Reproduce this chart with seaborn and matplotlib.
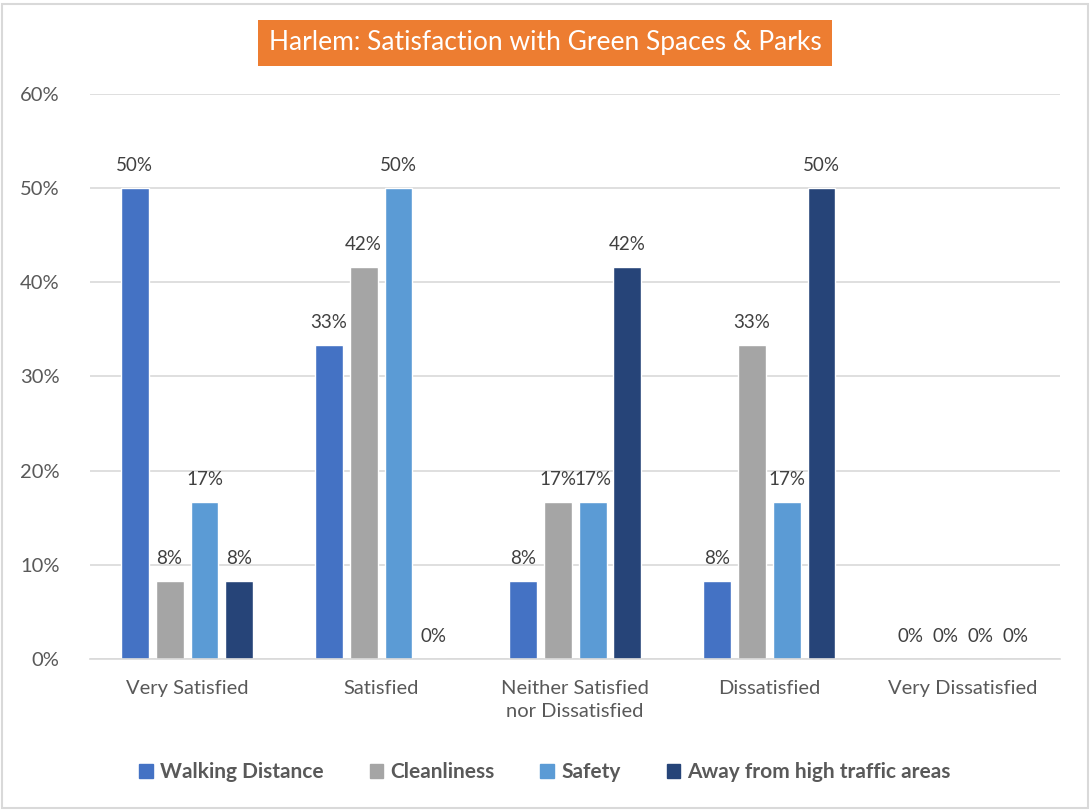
import matplotlib
matplotlib.use("Agg")
import matplotlib.pyplot as plt
import seaborn as sns
import pandas as pd
from matplotlib.patches import Rectangle

categories = ["Very Satisfied", "Satisfied", "Neither Satisfied\nnor Dissatisfied", "Dissatisfied", "Very Dissatisfied"]
series = ["Walking Distance", "Cleanliness", "Safety", "Away from high traffic areas"]
walking = [50.0, 33.33, 8.33, 8.33, 0.0]
cleanliness = [8.33, 41.67, 16.67, 33.33, 0.0]
safety = [16.67, 50.0, 16.67, 16.67, 0.0]
away = [8.33, 0.0, 41.67, 50.0, 0.0]
colors = ["#4472C4", "#A5A5A5", "#5B9BD5", "#264478"]
yticks = [0, 10, 20, 30, 40, 50, 60]

rows = []
for name, vals in zip(series, [walking, cleanliness, safety, away]):
    for c, v in zip(categories, vals):
        rows.append({"category": c, "series": name, "value": v})
df = pd.DataFrame(rows)

sns.set_theme(style="white")
plt.rcParams['font.family'] = ['Lato', 'DejaVu Sans']
txt = "#595959"
fs = 14.5

fig = plt.figure(figsize=(10.9, 8.1), dpi=100)
ax = fig.add_axes([0.0826, 0.1864, 0.89, 0.6976])
sns.barplot(data=df, x="category", y="value", hue="series", order=categories,
            hue_order=series, palette=colors, width=0.72, gap=0.2, ax=ax,
            legend=False, saturation=1, errorbar=None)

ax.set_ylim(0, 60)
ax.set_xlim(-0.5, len(categories) - 0.5)
ax.set_yticks(yticks)
ax.set_yticklabels([f"{t}%" for t in yticks], color=txt, fontsize=fs)
ax.tick_params(axis="y", length=0, pad=22)
ax.tick_params(axis="x", length=0, pad=15, labelsize=fs, labelcolor=txt)
for lbl in ax.get_xticklabels():
    lbl.set_linespacing(1.45)
ax.set_xlabel("")
ax.set_ylabel("")
ax.grid(axis="y", color="#D9D9D9", linewidth=1.2)
ax.set_axisbelow(True)
for s in ["top", "right", "left"]:
    ax.spines[s].set_visible(False)
ax.spines["bottom"].set_color("#D9D9D9")
ax.spines["bottom"].set_linewidth(1.2)

for cont in ax.containers:
    ax.bar_label(cont, labels=[f"{round(v)}%" for v in cont.datavalues],
                 padding=10, color="#404040", fontsize=13.5)

handles = [Rectangle((0, 0), 1, 1, color=c) for c in colors]
leg = fig.legend(handles, series, loc="center", bbox_to_anchor=(0.5, 0.047), ncol=4,
                 frameon=False, handlelength=0.65, handleheight=0.65, columnspacing=2.2,
                 handletextpad=0.35, prop={"weight": "bold", "size": 15})
for t in leg.get_texts():
    t.set_color(txt)

fig.text(0.5, 0.947, "Harlem: Satisfaction with Green Spaces & Parks", ha="center", va="center",
         color="white", fontsize=19,
         bbox=dict(boxstyle="square,pad=0.4", facecolor="#ED7D31", edgecolor="none"))

fig.patches.append(Rectangle((0.002, 0.002), 0.996, 0.993, transform=fig.transFigure,
                             fill=False, edgecolor="#D9D9D9", linewidth=1.5))

fig.savefig("out.png", dpi=100, facecolor="white")
